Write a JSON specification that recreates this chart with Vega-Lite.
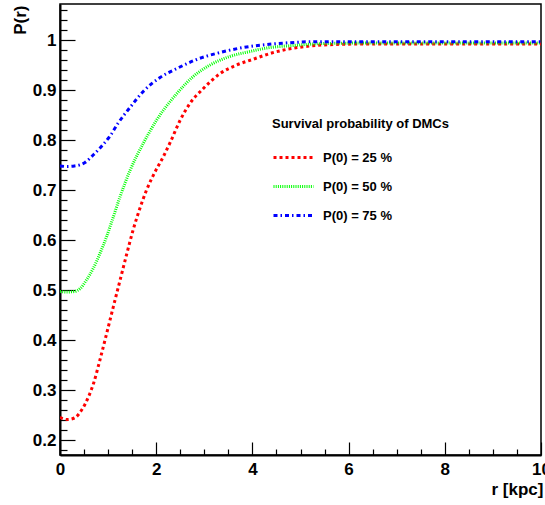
{
  "$schema": "https://vega.github.io/schema/vega-lite/v6.json",
  "width": 481,
  "height": 451,
  "autosize": {"type": "none"},
  "padding": {"left": 60, "top": 4, "right": 4, "bottom": 50},
  "background": "white",
  "config": {
    "font": "Liberation Sans",
    "view": {"stroke": "#000", "strokeWidth": 1.5},
    "axis": {
      "labelFont": "Liberation Sans", "labelFontWeight": "bold", "labelFontSize": 17, "labelColor": "#000",
      "titleFont": "Liberation Sans", "titleFontWeight": "bold", "titleFontSize": 17, "titleColor": "#000",
      "domainColor": "#000", "domainWidth": 2, "tickColor": "#000", "tickWidth": 1.2, "grid": false,
      "labelFlush": false, "labelOverlap": false
    },
    "legend": {
      "orient": "none", "legendX": 212, "legendY": 114,
      "titleFont": "Liberation Sans", "titleFontSize": 13, "titleFontWeight": "bold", "titleColor": "#000", "titleLimit": 400,
      "labelFont": "Liberation Sans", "labelFontSize": 13, "labelFontWeight": "bold", "labelColor": "#000", "labelLimit": 300,
      "symbolType": "stroke", "symbolSize": 1600, "symbolStrokeWidth": 3, "labelOffset": 8,
      "rowPadding": -10, "titlePadding": 5
    }
  },
  "data": {"values": [
    {"r": 0, "p": 0.245, "s": "P(0) = 25 %"},
    {"r": 0.15, "p": 0.241, "s": "P(0) = 25 %"},
    {"r": 0.3, "p": 0.244, "s": "P(0) = 25 %"},
    {"r": 0.45, "p": 0.26, "s": "P(0) = 25 %"},
    {"r": 0.6, "p": 0.288, "s": "P(0) = 25 %"},
    {"r": 0.7, "p": 0.314, "s": "P(0) = 25 %"},
    {"r": 0.83, "p": 0.36, "s": "P(0) = 25 %"},
    {"r": 0.97, "p": 0.413, "s": "P(0) = 25 %"},
    {"r": 1.11, "p": 0.467, "s": "P(0) = 25 %"},
    {"r": 1.25, "p": 0.52, "s": "P(0) = 25 %"},
    {"r": 1.39, "p": 0.573, "s": "P(0) = 25 %"},
    {"r": 1.52, "p": 0.62, "s": "P(0) = 25 %"},
    {"r": 1.66, "p": 0.663, "s": "P(0) = 25 %"},
    {"r": 1.8, "p": 0.7, "s": "P(0) = 25 %"},
    {"r": 1.98, "p": 0.737, "s": "P(0) = 25 %"},
    {"r": 2.15, "p": 0.767, "s": "P(0) = 25 %"},
    {"r": 2.3, "p": 0.797, "s": "P(0) = 25 %"},
    {"r": 2.49, "p": 0.838, "s": "P(0) = 25 %"},
    {"r": 2.7, "p": 0.873, "s": "P(0) = 25 %"},
    {"r": 2.98, "p": 0.903, "s": "P(0) = 25 %"},
    {"r": 3.33, "p": 0.933, "s": "P(0) = 25 %"},
    {"r": 3.67, "p": 0.95, "s": "P(0) = 25 %"},
    {"r": 4.0, "p": 0.961, "s": "P(0) = 25 %"},
    {"r": 4.4, "p": 0.974, "s": "P(0) = 25 %"},
    {"r": 4.7, "p": 0.981, "s": "P(0) = 25 %"},
    {"r": 5.2, "p": 0.988, "s": "P(0) = 25 %"},
    {"r": 5.7, "p": 0.991, "s": "P(0) = 25 %"},
    {"r": 6.4, "p": 0.992, "s": "P(0) = 25 %"},
    {"r": 8, "p": 0.992, "s": "P(0) = 25 %"},
    {"r": 10, "p": 0.992, "s": "P(0) = 25 %"},
    {"r": 0, "p": 0.497, "s": "P(0) = 50 %"},
    {"r": 0.15, "p": 0.496, "s": "P(0) = 50 %"},
    {"r": 0.3, "p": 0.497, "s": "P(0) = 50 %"},
    {"r": 0.42, "p": 0.503, "s": "P(0) = 50 %"},
    {"r": 0.55, "p": 0.52, "s": "P(0) = 50 %"},
    {"r": 0.69, "p": 0.543, "s": "P(0) = 50 %"},
    {"r": 0.83, "p": 0.573, "s": "P(0) = 50 %"},
    {"r": 0.97, "p": 0.607, "s": "P(0) = 50 %"},
    {"r": 1.07, "p": 0.635, "s": "P(0) = 50 %"},
    {"r": 1.25, "p": 0.687, "s": "P(0) = 50 %"},
    {"r": 1.46, "p": 0.74, "s": "P(0) = 50 %"},
    {"r": 1.73, "p": 0.793, "s": "P(0) = 50 %"},
    {"r": 2.01, "p": 0.84, "s": "P(0) = 50 %"},
    {"r": 2.43, "p": 0.893, "s": "P(0) = 50 %"},
    {"r": 2.77, "p": 0.927, "s": "P(0) = 50 %"},
    {"r": 3.12, "p": 0.95, "s": "P(0) = 50 %"},
    {"r": 3.53, "p": 0.967, "s": "P(0) = 50 %"},
    {"r": 3.95, "p": 0.977, "s": "P(0) = 50 %"},
    {"r": 4.3, "p": 0.984, "s": "P(0) = 50 %"},
    {"r": 4.85, "p": 0.989, "s": "P(0) = 50 %"},
    {"r": 5.5, "p": 0.993, "s": "P(0) = 50 %"},
    {"r": 6.5, "p": 0.994, "s": "P(0) = 50 %"},
    {"r": 10, "p": 0.994, "s": "P(0) = 50 %"},
    {"r": 0, "p": 0.748, "s": "P(0) = 75 %"},
    {"r": 0.15, "p": 0.747, "s": "P(0) = 75 %"},
    {"r": 0.3, "p": 0.748, "s": "P(0) = 75 %"},
    {"r": 0.52, "p": 0.755, "s": "P(0) = 75 %"},
    {"r": 0.69, "p": 0.77, "s": "P(0) = 75 %"},
    {"r": 0.87, "p": 0.788, "s": "P(0) = 75 %"},
    {"r": 1.04, "p": 0.808, "s": "P(0) = 75 %"},
    {"r": 1.21, "p": 0.834, "s": "P(0) = 75 %"},
    {"r": 1.455, "p": 0.865, "s": "P(0) = 75 %"},
    {"r": 1.73, "p": 0.897, "s": "P(0) = 75 %"},
    {"r": 2.08, "p": 0.925, "s": "P(0) = 75 %"},
    {"r": 2.43, "p": 0.943, "s": "P(0) = 75 %"},
    {"r": 2.84, "p": 0.961, "s": "P(0) = 75 %"},
    {"r": 3.33, "p": 0.975, "s": "P(0) = 75 %"},
    {"r": 3.81, "p": 0.985, "s": "P(0) = 75 %"},
    {"r": 4.3, "p": 0.991, "s": "P(0) = 75 %"},
    {"r": 4.54, "p": 0.993, "s": "P(0) = 75 %"},
    {"r": 5.26, "p": 0.9965, "s": "P(0) = 75 %"},
    {"r": 6.5, "p": 0.9967, "s": "P(0) = 75 %"},
    {"r": 10, "p": 0.9967, "s": "P(0) = 75 %"}
  ]},
  "layer": [
    {
      "mark": {"type": "line", "interpolate": "monotone", "strokeWidth": 3, "clip": true},
      "encoding": {
        "x": {"field": "r", "type": "quantitative",
          "scale": {"domain": [0, 10], "nice": false, "zero": false},
          "axis": {"values": [0, 2, 4, 6, 8, 10], "format": "d", "tickSize": -13, "labelPadding": 19,
            "title": "r [kpc]", "titleAlign": "right", "titleBaseline": "alphabetic", "titleX": 483, "titleY": 39}},
        "y": {"field": "p", "type": "quantitative",
          "scale": {"domain": [0.17, 1.072], "nice": false, "zero": false},
          "axis": {"values": [0.2, 0.3, 0.4, 0.5, 0.6, 0.7, 0.8, 0.9, 1], "format": ".1~f", "tickSize": -15, "labelPadding": 19,
            "title": "P(r)", "titleAngle": -90, "titleAlign": "right", "titleBaseline": "bottom", "titleX": -31, "titleY": 1}},
        "color": {"field": "s", "type": "nominal", "title": "Survival probability of DMCs",
          "scale": {"domain": ["P(0) = 25 %", "P(0) = 50 %", "P(0) = 75 %"], "range": ["#ff0000", "#00ff00", "#0000ff"]}},
        "strokeDash": {"field": "s", "type": "nominal", "title": "Survival probability of DMCs",
          "scale": {"domain": ["P(0) = 25 %", "P(0) = 50 %", "P(0) = 75 %"], "range": [[3, 3], [1, 1.2], [4, 3, 1.5, 3]]}}
      }
    },
    {
      "mark": {"type": "point", "opacity": 0},
      "encoding": {
        "x": {"field": "r", "type": "quantitative",
          "axis": {"orient": "bottom", "values": [0.5, 1, 1.5, 2.5, 3, 3.5, 4.5, 5, 5.5, 6.5, 7, 7.5, 8.5, 9, 9.5], "tickSize": -6, "labels": false, "domain": false, "title": null}},
        "y": {"field": "p", "type": "quantitative",
          "axis": {"orient": "left", "values": [0.18, 0.22, 0.24, 0.26, 0.28, 0.32, 0.34, 0.36, 0.38, 0.42, 0.44, 0.46, 0.48, 0.52, 0.54, 0.56, 0.58, 0.62, 0.64, 0.66, 0.68, 0.72, 0.74, 0.76, 0.78, 0.82, 0.84, 0.86, 0.88, 0.92, 0.94, 0.96, 0.98, 1.02, 1.04, 1.06], "tickSize": -7, "labels": false, "domain": false, "title": null}}
      }
    }
  ],
  "resolve": {"axis": {"x": "independent", "y": "independent"}}
}
